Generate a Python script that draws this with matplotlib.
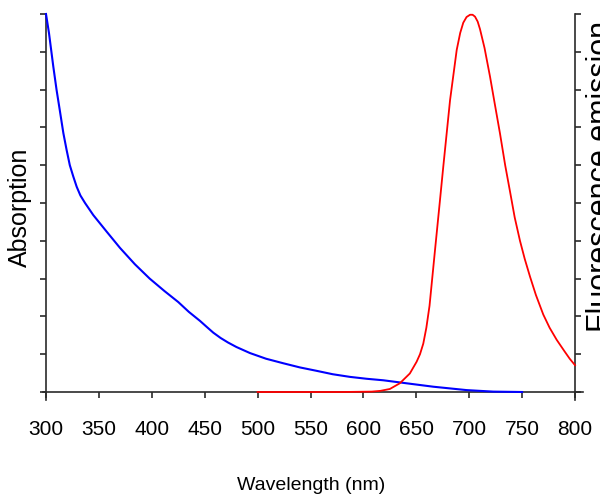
import matplotlib
matplotlib.use("Agg")
import matplotlib.pyplot as plt
from matplotlib import font_manager

# ---- data ----
abs_wl = [300, 302.8, 306.9, 310, 313, 316.4, 319.5, 322.5, 325.8, 329, 332.5, 336.9, 344.7,
          357.4, 370, 384, 398, 412, 425, 435, 445.6, 452, 458.1, 465, 472, 480, 492.8, 508,
          524.3, 540, 555.8, 571, 587.3, 603, 618.8, 640.9, 666, 697.6, 722.8, 750]
abs_val = [1.0, 0.95, 0.861, 0.799, 0.746, 0.685, 0.640, 0.60, 0.57, 0.543, 0.52, 0.50, 0.468,
           0.424, 0.381, 0.338, 0.300, 0.267, 0.238, 0.212, 0.188, 0.172, 0.157, 0.143, 0.131,
           0.119, 0.103, 0.088, 0.076, 0.065, 0.056, 0.047, 0.040, 0.035, 0.031, 0.023, 0.014,
           0.005, 0.001, 0.0]

em_wl = [500, 540, 580, 607.8, 616, 625, 634.4, 643.9, 650.3, 653.5, 656.6, 659.5, 662.5,
         667.7, 672.4, 675.5, 681.9, 688.2, 691.5, 694.4, 697.5, 700.8, 703.2, 705.5, 708,
         710.2, 714.5, 719.7, 724, 729.1, 734, 738.6, 743, 748, 752.5, 757.5, 763, 770, 776,
         782.7, 790, 795, 800]
em_val = [0.0, 0.0, 0.0, 0.001, 0.003, 0.008, 0.023, 0.049, 0.080, 0.100, 0.128, 0.170, 0.228,
          0.376, 0.508, 0.596, 0.772, 0.905, 0.950, 0.977, 0.992, 0.998, 0.998, 0.993, 0.980,
          0.960, 0.910, 0.834, 0.765, 0.684, 0.600, 0.530, 0.462, 0.400, 0.352, 0.305, 0.257,
          0.205, 0.170, 0.138, 0.108, 0.088, 0.071]

x_ticks = [300, 350, 400, 450, 500, 550, 600, 650, 700, 750, 800]
y_ticks = [i / 10 for i in range(11)]

x_label = "Wavelength (nm)"
left_label = "Absorption"
right_label = "Fluorescence emission"

# ---- fonts ----
names = {f.name for f in font_manager.fontManager.ttflist}
narrow = "Liberation Sans Narrow" if "Liberation Sans Narrow" in names else None
plain = "Liberation Sans" if "Liberation Sans" in names else "DejaVu Sans"
tick_family = [narrow or plain, "DejaVu Sans"]
tick_size = 16 if narrow else 15
xlab_size = 16 if narrow else 14

spine_col = "#2a2a2a"

fig = plt.figure(figsize=(6.0, 4.97), dpi=100)
ax = fig.add_axes([46 / 600, 1 - 392 / 497, (575 - 46) / 600, (392 - 14) / 497])
ax2 = ax.twinx()

ax.plot(abs_wl, abs_val, color="#0000ff", lw=1.5, zorder=3, clip_on=False)
ax2.plot(em_wl, em_val, color="#ff0000", lw=1.3, zorder=3, clip_on=False)

ax.set_xlim(300, 800)
ax.set_ylim(0, 1.0)
ax2.set_ylim(0, 1.0)

ax.set_xticks(x_ticks)
ax.set_xticklabels([str(t) for t in x_ticks], family=tick_family, fontsize=tick_size)
ax.set_yticks(y_ticks)
ax.set_yticklabels([])
ax2.set_yticks(y_ticks)
ax2.set_yticklabels([])

for a in (ax, ax2):
    a.spines["top"].set_visible(False)
    for s in a.spines.values():
        s.set_color(spine_col)
        s.set_linewidth(1.2)
    a.tick_params(direction="out", length=4.5, width=1.2, color=spine_col)

ax.spines["right"].set_visible(False)
ax2.spines["left"].set_visible(False)
ax2.spines["bottom"].set_visible(False)
ax.tick_params(axis="x", pad=16)
ax.spines["bottom"].set_bounds(297, 808)
ax.spines["left"].set_bounds(-0.021, 1.0)
ax2.spines["right"].set_bounds(-0.021, 1.0)

fig.text(311 / 600, 1 - 485 / 497, x_label, ha="center", va="center",
         fontsize=xlab_size, family=tick_family)
fig.text(20 / 600, 1 - 207 / 497, left_label, ha="center", va="center",
         rotation=90, fontsize=18, family=[plain, "DejaVu Sans"])
fig.text(586 / 600, 1 - 176 / 497, right_label, ha="left", va="center",
         rotation=90, fontsize=22, family=[plain, "DejaVu Sans"])

fig.savefig("out.png", dpi=100)
